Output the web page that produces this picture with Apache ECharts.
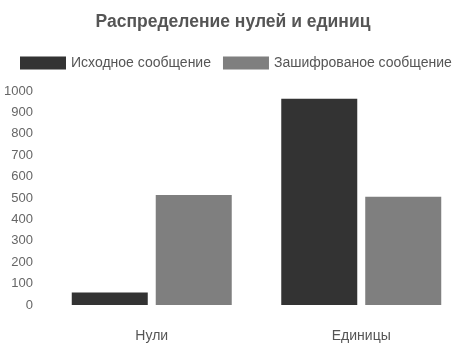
<!DOCTYPE html>
<html><head><meta charset="utf-8">
<script src="https://cdn.jsdelivr.net/npm/echarts@6/dist/echarts.min.js"></script>
<style>html,body{margin:0;padding:0;background:#fff}#c{width:466px;height:349px}</style>
</head><body><div id="c"></div>
<script>
const categories = ['Нули', 'Единицы'];
const seriesNames = ['Исходное сообщение', 'Зашифрованое сообщение'];
const original = [58, 964];
const encrypted = [514, 506];
const yTicks = [0, 1000, 100];

const FONT = 'Liberation Sans';
const chart = echarts.init(document.getElementById('c'));
chart.setOption({
  animation: false,
  title: {
    text: 'Распределение нулей и единиц',
    left: 'center', top: 8,
    textStyle: {fontFamily: FONT, fontSize: 17.5, fontWeight: 'bold', color: '#555'}
  },
  legend: {
    top: 51, left: 15,
    itemWidth: 46, itemHeight: 13, itemGap: 12,
    textStyle: {fontFamily: FONT, fontSize: 14, color: '#555'},
    icon: 'rect',
    data: seriesNames
  },
  grid: {left: 47, right: 0, top: 91, bottom: 44},
  xAxis: {
    type: 'category', data: categories,
    axisLine: {show: false}, axisTick: {show: false},
    axisLabel: {margin: 24, fontFamily: FONT, fontSize: 14, color: '#555'}
  },
  yAxis: {
    type: 'value', min: yTicks[0], max: yTicks[1], interval: yTicks[2],
    splitLine: {show: false}, axisLine: {show: false}, axisTick: {show: false},
    axisLabel: {margin: 14, fontFamily: FONT, fontSize: 13, color: '#666', formatter: v => String(v)}
  },
  series: [
    {name: seriesNames[0], type: 'bar', data: original, barWidth: 76, barGap: '10.5%', itemStyle: {color: '#333333'}},
    {name: seriesNames[1], type: 'bar', data: encrypted, barWidth: 76, itemStyle: {color: '#7f7f7f'}}
  ]
});
</script></body></html>
